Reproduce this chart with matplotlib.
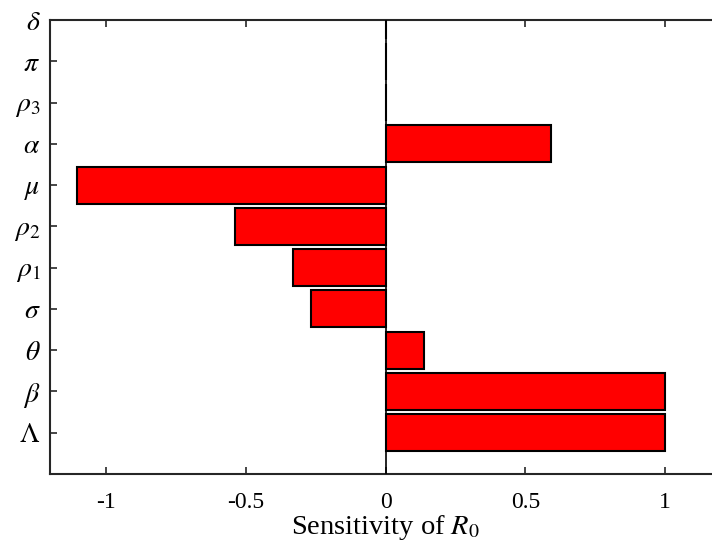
import matplotlib.pyplot as plt
import numpy as np

plt.rcParams['font.family'] = ['Liberation Serif', 'DejaVu Serif']
plt.rcParams['mathtext.fontset'] = 'stix'

# parameters, bottom to top
params = [r'$\Lambda$', r'$\beta$', r'$\theta$', r'$\sigma$', r'$\rho_1$', r'$\rho_2$',
          r'$\mu$', r'$\alpha$', r'$\rho_3$', r'$\pi$', r'$\delta$']
sensitivity = [1.0, 1.0, 0.137, -0.267, -0.33, -0.54, -1.104, 0.592, 0.0, 0.0, 0.0]

fig = plt.figure(figsize=(7.12, 5.49), dpi=100)
ax = fig.add_axes([50/712, 1 - 474/549, 671/712, 454/549])

pos = np.arange(1, len(params) + 1)
ax.barh(pos, sensitivity, height=0.9, color='red', edgecolor='black', linewidth=1.5, zorder=2)
ax.axvline(0, color='black', linewidth=1.2, zorder=3)

ax.set_xlim(-1.2, 1.2)
ax.set_ylim(0, 11)
ax.set_yticks(pos)
ax.set_yticklabels(params)
ax.set_xticks([-1, -0.5, 0, 0.5, 1])
ax.set_xticklabels(['-1', '-0.5', '0', '0.5', '1'])
ax.tick_params(direction='in', top=True, right=True, labelsize=17, length=5, width=1.2,
               color='#262626', pad=13)
ax.tick_params(axis='y', labelsize=20, pad=7)
for s in ax.spines.values():
    s.set_linewidth(1.5)
    s.set_color('#262626')

ax.set_xlabel(r'Sensitivity of $R_{\mathit{0}}$', fontsize=20.5, labelpad=0)

fig.savefig('out.png', dpi=100)
